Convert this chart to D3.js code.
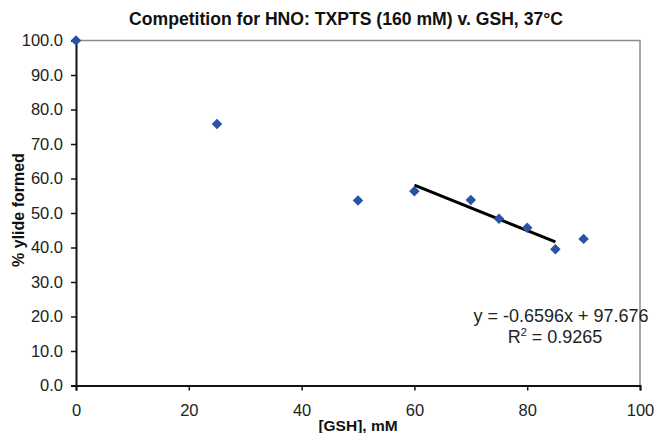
<!DOCTYPE html>
<html><head><meta charset="utf-8">
<script src="https://cdn.jsdelivr.net/npm/d3@7"></script>
<style>body{margin:0;background:#fff}svg{display:block}text{font-family:"Liberation Sans",Arial,sans-serif}</style>
</head><body>
<svg id="c" width="655" height="433"></svg>
<script>
const gsh = [0, 25, 50, 60, 70, 75, 80, 85, 90];
const ylide = [100.0, 75.8, 53.6, 56.3, 53.8, 48.3, 45.7, 39.5, 42.5];
const fitX = [60, 85];
const slope = -0.6596, intercept = 97.676;
const xTicks = [0, 20, 40, 60, 80, 100];
const yTicks = [0, 10, 20, 30, 40, 50, 60, 70, 80, 90, 100];
const title = "Competition for HNO: TXPTS (160 mM) v. GSH, 37\u00B0C";
const xLabel = "[GSH], mM";
const yLabel = "% ylide formed";
const eqText = "y = -0.6596x + 97.676";

const svg = d3.select("#c");
const L = 76, R = 640, T = 40.5, B = 385.5;
const x = d3.scaleLinear().domain([0, 100]).range([L, R]);
const y = d3.scaleLinear().domain([0, 100]).range([B, T]);

// plot border (gray top/right)
svg.append("path").attr("d", `M${L},${T}H${R}V${B}`).attr("fill", "none").attr("stroke", "#8a8a8a").attr("stroke-width", 1.5);

const xa = svg.append("g").attr("transform", `translate(0,${B})`)
  .call(d3.axisBottom(x).tickValues(xTicks).tickFormat(d3.format("d")).tickSize(5).tickPadding(14));
const ya = svg.append("g").attr("transform", `translate(${L},0)`)
  .call(d3.axisLeft(y).tickValues(yTicks).tickFormat(d3.format(".1f")).tickSize(5).tickPadding(8));
[xa, ya].forEach(a => {
  a.select(".domain").attr("stroke", "#111").attr("stroke-width", 2);
  a.selectAll(".tick line").attr("stroke", "#111").attr("stroke-width", 1.5);
  a.selectAll(".tick text").attr("fill", "#222").style("font-size", "16.5px");
});

// trendline
svg.append("line")
  .attr("x1", x(fitX[0])).attr("y1", y(slope * fitX[0] + intercept))
  .attr("x2", x(fitX[1])).attr("y2", y(slope * fitX[1] + intercept))
  .attr("stroke", "#000").attr("stroke-width", 3);

// markers
svg.selectAll(".pt").data(gsh.map((g, i) => [g, ylide[i]])).join("path")
  .attr("d", d3.symbol().type(d3.symbolSquare).size(55)())
  .attr("transform", d => `translate(${x(d[0])},${y(d[1])}) rotate(45)`)
  .attr("fill", "#2a52a3");

svg.append("text").attr("x", 346).attr("y", 25).attr("text-anchor", "middle")
  .style("font-size", "17.6px").style("font-weight", "bold").attr("fill", "#111").text(title);
svg.append("text").attr("x", 358).attr("y", 431).attr("text-anchor", "middle")
  .style("font-size", "15.5px").style("font-weight", "bold").attr("fill", "#111").text(xLabel);
svg.append("text").attr("transform", "translate(24,210) rotate(-90)").attr("text-anchor", "middle")
  .style("font-size", "16px").style("font-weight", "bold").attr("fill", "#111").text(yLabel);

svg.append("text").attr("x", 561).attr("y", 322).attr("text-anchor", "middle")
  .style("font-size", "18px").attr("fill", "#222").text(eqText);
const r2 = svg.append("text").attr("x", 555).attr("y", 343).attr("text-anchor", "middle")
  .style("font-size", "18px").attr("fill", "#222");
r2.append("tspan").text("R");
r2.append("tspan").attr("dy", -7).style("font-size", "11px").text("2");
r2.append("tspan").attr("dy", 7).text(" = 0.9265");
</script>
</body></html>
